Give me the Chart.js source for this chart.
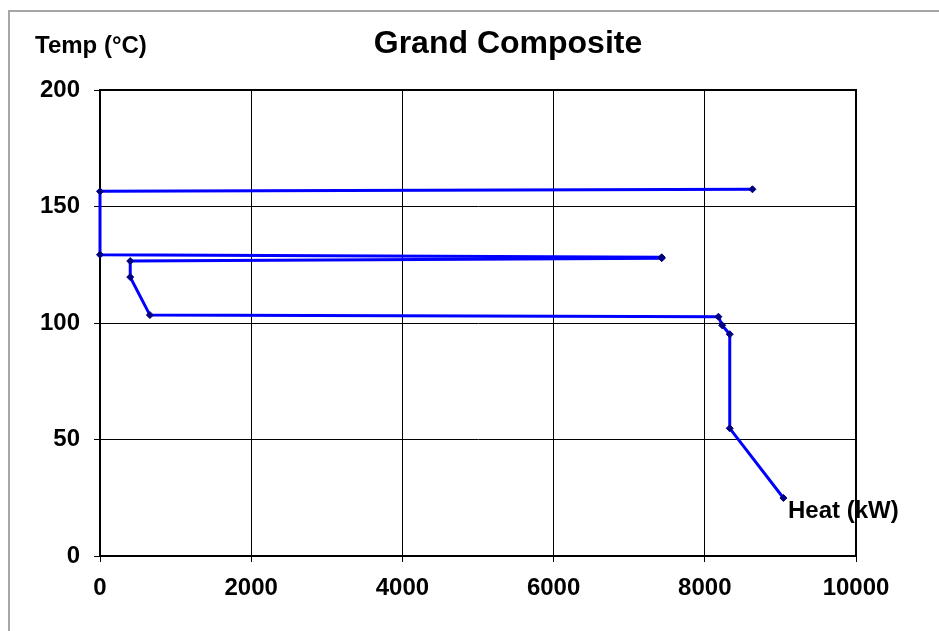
<!DOCTYPE html>
<html>
<head>
<meta charset="utf-8">
<script src="https://cdn.jsdelivr.net/npm/chart.js@4/dist/chart.umd.min.js"></script>
<style>
  html, body { margin: 0; padding: 0; background: #fff; }
  #wrap { width: 939px; height: 631px; position: relative; }
</style>
</head>
<body>
<div id="wrap"><canvas id="c" width="939" height="631"></canvas></div>
<script>
// Grand composite curve: heat flow (kW) against shifted temperature (°C)
const heatKW = [8630, 0, 0, 7430, 7430, 400, 400, 660, 8180, 8230, 8330, 8330, 9040];
const tempC  = [157.4, 156.5, 129.3, 128.2, 127.8, 126.6, 119.7, 103.4, 102.7, 99.0, 95.2, 54.8, 24.9];
const xTicks = [0, 2000, 4000, 6000, 8000, 10000];
const yTicks = [0, 50, 100, 150, 200];

const titleText = 'Grand Composite';
const yAxisText = 'Temp (°C)';
const xAxisText = 'Heat (kW)';

const FONT = '"Liberation Sans", Arial, sans-serif';

const points = heatKW.map((h, i) => ({ x: h, y: tempC[i] }));

// Outer frame, plot border and free-standing labels
const decorations = {
  id: 'decorations',
  beforeDraw(chart) {
    const ctx = chart.ctx;
    ctx.save();
    ctx.fillStyle = '#fff';
    ctx.fillRect(0, 0, chart.width, chart.height);
    ctx.strokeStyle = '#a6a6a6';
    ctx.lineWidth = 2;
    ctx.beginPath();
    ctx.moveTo(9, chart.height);
    ctx.lineTo(9, 11);
    ctx.lineTo(chart.width, 11);
    ctx.stroke();
    ctx.restore();
  },
  beforeDatasetsDraw(chart) {
    // plot border sits under the curve, so the segment on the x = 0 axis stays visible
    const ctx = chart.ctx;
    const a = chart.chartArea;
    ctx.save();
    ctx.strokeStyle = '#000';
    ctx.lineWidth = 2;
    ctx.strokeRect(a.left, a.top, a.right - a.left, a.bottom - a.top);
    ctx.restore();
  },
  afterDatasetsDraw(chart) {
    const ctx = chart.ctx;
    ctx.save();
    ctx.fillStyle = '#000';
    ctx.textBaseline = 'alphabetic';
    ctx.font = 'bold 32px ' + FONT;
    ctx.textAlign = 'center';
    ctx.fillText(titleText, 508, 53);
    ctx.font = 'bold 24px ' + FONT;
    ctx.textAlign = 'left';
    ctx.fillText(yAxisText, 35, 53);
    ctx.fillText(xAxisText, 788, 518);
    ctx.restore();
  }
};

new Chart(document.getElementById('c'), {
  type: 'scatter',
  data: {
    datasets: [{
      data: points,
      showLine: true,
      borderColor: '#0000ff',
      borderWidth: 3,
      pointStyle: 'rectRot',
      pointRadius: 3.5,
      pointBackgroundColor: '#000080',
      pointBorderColor: '#000080',
      pointBorderWidth: 1,
      tension: 0,
      clip: false
    }]
  },
  options: {
    responsive: false,
    animation: false,
    layout: { padding: { left: 0, top: 90, right: 83, bottom: 0 } },
    plugins: {
      legend: { display: false },
      title: { display: false },
      tooltip: { enabled: false }
    },
    scales: {
      x: {
        type: 'linear',
        min: xTicks[0],
        max: xTicks[xTicks.length - 1],
        afterBuildTicks(scale) { scale.ticks = xTicks.map(v => ({ value: v })); },
        afterFit(scale) { scale.height = 75; },
        grid: { color: '#000', lineWidth: 1, tickLength: 6, drawTicks: true },
        border: { color: '#000', width: 2 },
        ticks: {
          color: '#000',
          font: { family: FONT, size: 24, weight: 'bold' },
          padding: 12,
          maxRotation: 0,
          autoSkip: false,
          callback: v => String(v)
        }
      },
      y: {
        type: 'linear',
        min: yTicks[0],
        max: yTicks[yTicks.length - 1],
        afterBuildTicks(scale) { scale.ticks = yTicks.map(v => ({ value: v })); },
        afterFit(scale) { scale.width = 100; },
        grid: { color: '#000', lineWidth: 1, tickLength: 6, drawTicks: true },
        border: { color: '#000', width: 2 },
        ticks: {
          color: '#000',
          font: { family: FONT, size: 24, weight: 'bold' },
          padding: 14,
          autoSkip: false,
          callback: v => String(v)
        }
      }
    }
  },
  plugins: [decorations]
});
</script>
</body>
</html>
